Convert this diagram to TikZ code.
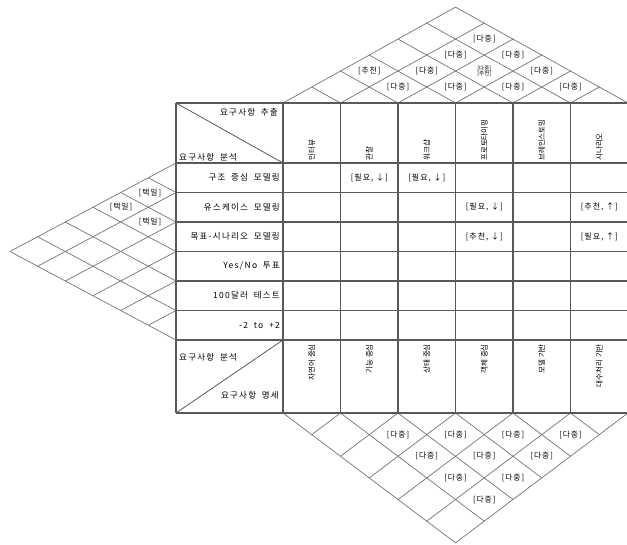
\documentclass[tikz,border=0pt]{standalone}
\usepackage{fontspec}
\newfontfamily\kr[LetterSpace=15,WordSpace=1.8]{Noto Sans CJK KR}
\newfontfamily\krc[LetterSpace=12]{Noto Sans CJK KR}
\newfontfamily\krplain{Noto Sans CJK KR}
\begin{document}
\begin{tikzpicture}[x=1pt,y=-1pt,
  tbl/.style={draw=black!65,line width=1.1pt},
  gridline/.style={draw=black!55,line width=0.7pt},
  rowlab/.style={font=\kr\fontsize{8.5}{10}\selectfont,inner sep=0pt,anchor=east,text=black},
  cell/.style={font=\krc\fontsize{8}{10}\selectfont,inner sep=0pt,text=black},
  tag/.style={font=\krc\fontsize{7.8}{9}\selectfont,inner sep=0pt,text=black},
  tinytag/.style={font=\krplain\fontsize{5.5}{6}\selectfont,inner sep=0pt,align=center,text=black},
  vlab/.style={font=\krplain\fontsize{7.5}{9}\selectfont,inner sep=0pt,rotate=90,text=black},
]
\useasboundingbox (0,0) rectangle (627,545);

% ---------- roof (top triangle) ----------
\foreach \k in {0,...,6}{
  \pgfmathsetmacro\xk{283+57.5*\k}
  \draw[gridline] (\xk,103) -- ({(\xk+628.5)/2},{103-0.5557*(628.5-\xk)/2});
  \draw[gridline] (\xk,103) -- ({(\xk+283)/2},{103-0.5557*(\xk-283)/2});
}
% ---------- bottom triangle ----------
\foreach \k in {0,...,6}{
  \pgfmathsetmacro\xk{283+57.5*\k}
  \draw[gridline] (\xk,413) -- ({(\xk+628.5)/2},{413+0.7525*(628.5-\xk)/2});
  \draw[gridline] (\xk,413) -- ({(\xk+283)/2},{413+0.7525*(\xk-283)/2});
}
% ---------- left triangle ----------
\foreach \k in {0,...,6}{
  \pgfmathsetmacro\yk{163+29.5*\k}
  \draw[gridline] (176,\yk) -- ({176-1.876*(\yk-163)/2},{(\yk+163)/2});
  \draw[gridline] (176,\yk) -- ({176-1.876*(340-\yk)/2},{(\yk+340)/2});
}

% ---------- table ----------
\foreach \y in {103,163,192.5,222,251.5,281,310.5,340,413}{
  \draw[tbl] (176,\y) -- (628.5,\y);
}
\draw[tbl] (176,103) -- (176,413);
\foreach \k in {0,...,6}{
  \draw[tbl] ({283+57.5*\k},103) -- ({283+57.5*\k},413);
}
\draw[tbl,line width=0.8pt] (176,103) -- (283,163);
\draw[tbl,line width=0.8pt] (283,340) -- (176,413);

% header corner texts
\node[rowlab] (hx) at (278,112) {요구사항 추출};
\node[rowlab,anchor=west] (ha) at (179,157) {요구사항 분석};
\node[rowlab,anchor=west] (ba) at (179,357) {요구사항 분석};
\node[rowlab] (bm) at (279,395) {요구사항 명세};

% top column headers
\node[vlab,anchor=west] (h1) at (311.75,161) {인터뷰};
\node[vlab,anchor=west] (h2) at (369.25,161) {관찰};
\node[vlab,anchor=west] (h3) at (426.75,161) {워크샵};
\node[vlab,anchor=west] (h4) at (484.25,161) {프로토타이핑};
\node[vlab,anchor=west] (h5) at (541.75,161) {브레인스토밍};
\node[vlab,anchor=west] (h6) at (599.25,161) {시나리오};

% bottom column headers
\node[vlab,anchor=east] (b1) at (311.75,344) {자연어 중심};
\node[vlab,anchor=east] (b2) at (369.25,344) {기능 중심};
\node[vlab,anchor=east] (b3) at (426.75,344) {상태 중심};
\node[vlab,anchor=east] (b4) at (484.25,344) {객체 중심};
\node[vlab,anchor=east] (b5) at (541.75,344) {모델 기반};
\node[vlab,anchor=east] (b6) at (599.25,344) {대수처리 기반};

% row labels
\node[rowlab] (r1) at (280,177.75) {구조 중심 모델링};
\node[rowlab] (r2) at (280,207.25) {유스케이스 모델링};
\node[rowlab] (r3) at (280,236.75) {목표-시나리오 모델링};
\node[rowlab] (r4) at (280,266.25) {Yes/No 투표};
\node[rowlab] (r5) at (280,295.75) {100달러 테스트};
\node[rowlab] (r6) at (280,325.25) {-2 to +2};

% cell entries
\node[cell] (c12) at (369.25,177.75) {[필요, ↓]};
\node[cell] (c13) at (426.75,177.75) {[필요, ↓]};
\node[cell] (c24) at (484.25,207.25) {[필요, ↓]};
\node[cell] (c26) at (599.25,207.25) {[추천, ↑]};
\node[cell] (c34) at (484.25,236.75) {[추천, ↓]};
\node[cell] (c36) at (599.25,236.75) {[필요, ↑]};

% roof entries
\node[tag] (t13) at (369.25,71) {[추천]};
\node[tag] (t23) at (398,87) {[다중]};
\node[tag] (t34) at (455.5,87) {[다중]};
\node[tag] (t45) at (513,87) {[다중]};
\node[tag] (t56) at (570.5,87) {[다중]};
\node[tag] (t24) at (426.75,71) {[다중]};
\node[tinytag] (t35) at (484.25,71) {[다중]\\[-1.5pt][추천]};
\node[tag] (t46) at (541.75,71) {[다중]};
\node[tag] (t25) at (455.5,55) {[다중]};
\node[tag] (t36) at (513,55) {[다중]};
\node[tag] (t26) at (484.25,39) {[다중]};

% bottom entries
\node[tag] (u23) at (398,434.6) {[다중]};
\node[tag] (u34) at (455.5,434.6) {[다중]};
\node[tag] (u45) at (513,434.6) {[다중]};
\node[tag] (u56) at (570.5,434.6) {[다중]};
\node[tag] (u24) at (426.75,456.3) {[다중]};
\node[tag] (u35) at (484.25,456.3) {[다중]};
\node[tag] (u46) at (541.75,456.3) {[다중]};
\node[tag] (u25) at (455.5,477.9) {[다중]};
\node[tag] (u36) at (513,477.9) {[다중]};
\node[tag] (u26) at (484.25,499.5) {[다중]};

% left entries
\node[tag] (l12) at (150,192.5) {[택일]};
\node[tag] (l13) at (121,207.25) {[택일]};
\node[tag] (l23) at (150,222) {[택일]};
\end{tikzpicture}
\end{document}
